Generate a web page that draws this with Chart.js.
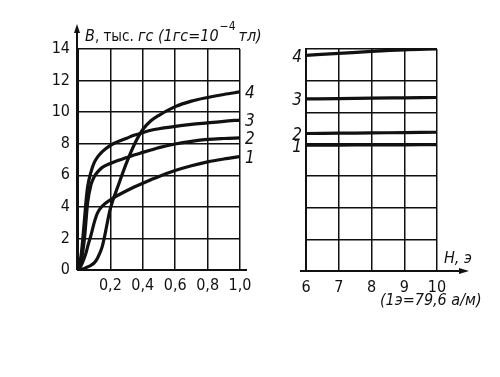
<!DOCTYPE html>
<html>
<head>
<meta charset="utf-8">
<script src="https://cdn.jsdelivr.net/npm/chart.js@4/dist/chart.umd.min.js"></script>
<style>
  body { margin: 0; background: #fff; width: 500px; height: 377px; overflow: hidden; }
  canvas { position: absolute; top: 0; }
  #left { left: 0; }
  #right { left: 270px; }
</style>
</head>
<body>
<canvas id="left" width="270" height="320"></canvas>
<canvas id="right" width="230" height="320"></canvas>
<script>
// H (кривые намагничивания, эрстед) — левая часть
const hSmall = [0, 0.02, 0.04, 0.05, 0.06, 0.08, 0.1, 0.12, 0.15, 0.2, 0.25, 0.3, 0.35, 0.4, 0.45, 0.5, 0.6, 0.7, 0.8, 0.9, 1.0];
const b1 = [0, 0.3, 0.8, 1.1, 1.5, 2.2, 3.0, 3.6, 4.05, 4.45, 4.75, 5.02, 5.27, 5.5, 5.72, 5.93, 6.3, 6.6, 6.85, 7.03, 7.18];
const b2 = [0, 0.6, 2.0, 3.2, 4.3, 5.4, 5.9, 6.2, 6.5, 6.75, 6.95, 7.12, 7.3, 7.45, 7.6, 7.75, 7.98, 8.15, 8.27, 8.33, 8.37];
const b3 = [0, 1.0, 3.2, 4.4, 5.3, 6.2, 6.8, 7.15, 7.5, 7.9, 8.15, 8.35, 8.55, 8.7, 8.85, 8.95, 9.1, 9.22, 9.32, 9.42, 9.5];
const b4 = [0, 0.05, 0.1, 0.15, 0.2, 0.3, 0.45, 0.75, 1.5, 3.9, 5.4, 6.8, 8.0, 8.9, 9.45, 9.8, 10.35, 10.7, 10.93, 11.12, 11.28];

// правая часть, H = 6..10 э
const hLarge = [6, 7, 8, 9, 10];
const r1 = [7.93, 7.94, 7.95, 7.96, 7.97];
const r2 = [8.67, 8.69, 8.71, 8.73, 8.75];
const r3 = [10.85, 10.87, 10.9, 10.92, 10.94];
const r4 = [13.6, 13.72, 13.85, 13.95, 14.0];

const curveNames = ['1', '2', '3', '4'];
const yTicks = [0, 2, 4, 6, 8, 10, 12, 14];

const FONT = "'Liberation Sans Narrow', 'DejaVu Sans Condensed', sans-serif";
const INK = '#111';

function toPoints(xs, ys) {
    return xs.map((x, i) => ({ x: x, y: ys[i] }));
}

function lineSet(label, xs, ys) {
    return {
        label: label,
        data: toPoints(xs, ys),
        borderColor: INK,
        borderWidth: 3.2,
        pointRadius: 0,
        fill: false,
        cubicInterpolationMode: 'monotone'
    };
}

const gridOpts = { color: INK, lineWidth: 1.5, drawTicks: false };

function arrowUp(ctx, x, y) {
    ctx.beginPath();
    ctx.moveTo(x, y);
    ctx.lineTo(x - 3, y + 9);
    ctx.lineTo(x + 3, y + 9);
    ctx.closePath();
    ctx.fill();
}

function arrowRight(ctx, x, y) {
    ctx.beginPath();
    ctx.moveTo(x, y);
    ctx.lineTo(x - 10, y - 3);
    ctx.lineTo(x - 10, y + 3);
    ctx.closePath();
    ctx.fill();
}

// подписи к левому графику
const leftDecor = {
    id: 'leftDecor',
    afterDraw(chart) {
        const ctx = chart.ctx;
        const a = chart.chartArea;
        const xs = chart.scales.x, ys = chart.scales.y;
        ctx.save();
        ctx.strokeStyle = INK;
        ctx.fillStyle = INK;
        ctx.lineWidth = 2;
        // ось B со стрелкой
        ctx.beginPath();
        ctx.moveTo(a.left - 1, a.bottom);
        ctx.lineTo(a.left - 1, 28);
        ctx.stroke();
        arrowUp(ctx, a.left - 1, 24);
        // ось H чуть дальше 1,0
        ctx.beginPath();
        ctx.moveTo(a.left, a.bottom);
        ctx.lineTo(a.right + 7, a.bottom);
        ctx.stroke();

        // заголовок оси
        ctx.textBaseline = 'alphabetic';
        ctx.textAlign = 'left';
        let x = 85;
        const base = 41;
        const parts = [
            ['italic 16px ' + FONT, 'B'],
            ['15px ' + FONT, ', тыс. '],
            ['italic 16px ' + FONT, 'гс'],
            ['italic 16px ' + FONT, ' (1гс=10'],
        ];
        parts.forEach(p => {
            ctx.font = p[0];
            ctx.fillText(p[1], x, base);
            x += ctx.measureText(p[1]).width;
        });
        ctx.font = '12px ' + FONT;
        ctx.fillText('−4', x + 1, base - 11);
        x += ctx.measureText('−4').width + 4;
        ctx.font = 'italic 16px ' + FONT;
        ctx.fillText('тл)', x, base);

        // номера кривых
        ctx.font = 'italic 17px ' + FONT;
        ctx.textBaseline = 'middle';
        chart.data.datasets.forEach(ds => {
            const last = ds.data[ds.data.length - 1];
            ctx.fillText(ds.label, xs.getPixelForValue(last.x) + 5, ys.getPixelForValue(last.y) + 2);
        });
        ctx.restore();
    }
};

// подписи к правому графику
const rightDecor = {
    id: 'rightDecor',
    afterDraw(chart) {
        const ctx = chart.ctx;
        const a = chart.chartArea;
        const ys = chart.scales.y;
        ctx.save();
        ctx.strokeStyle = INK;
        ctx.fillStyle = INK;
        ctx.lineWidth = 2;
        ctx.beginPath();
        ctx.moveTo(a.left - 6, a.bottom);
        ctx.lineTo(a.right + 24, a.bottom);
        ctx.stroke();
        arrowRight(ctx, a.right + 32, a.bottom);

        ctx.font = 'italic 17px ' + FONT;
        ctx.textBaseline = 'middle';
        ctx.textAlign = 'center';
        chart.data.datasets.forEach(ds => {
            const first = ds.data[0];
            ctx.fillText(ds.label, a.left - 9, ys.getPixelForValue(first.y) + 2);
        });

        ctx.textAlign = 'left';
        ctx.textBaseline = 'alphabetic';
        ctx.font = 'italic 16px ' + FONT;
        ctx.fillText('H, э', a.right + 7, a.bottom - 8);
        ctx.font = 'italic 16px ' + FONT;
        ctx.fillText('(1э=79,6 а/м)', a.left + 74, a.bottom + 34);
        ctx.restore();
    }
};

document.addEventListener('DOMContentLoaded', function() {
    Chart.defaults.font.family = FONT;
    Chart.defaults.color = INK;

    new Chart(document.getElementById('left').getContext('2d'), {
        type: 'line',
        data: {
            datasets: [
                lineSet(curveNames[0], hSmall, b1),
                lineSet(curveNames[1], hSmall, b2),
                lineSet(curveNames[2], hSmall, b3),
                lineSet(curveNames[3], hSmall, b4)
            ]
        },
        options: {
            responsive: false,
            animation: false,
            layout: { padding: { top: 49, right: 30, left: 0, bottom: 0 } },
            plugins: { legend: { display: false }, tooltip: { enabled: false } },
            scales: {
                x: {
                    type: 'linear',
                    min: 0, max: 1,
                    grid: gridOpts,
                    border: { color: INK, width: 2 },
                    afterFit: s => { s.height = 50; },
                    ticks: {
                        stepSize: 0.2,
                        padding: 6,
                        font: { size: 16 },
                        callback: v => v === 0 ? '' : v.toFixed(1).replace('.', ',')
                    }
                },
                y: {
                    min: 0, max: 14,
                    grid: gridOpts,
                    border: { color: INK, width: 2 },
                    afterFit: s => { s.width = 78; },
                    afterBuildTicks: s => { s.ticks = yTicks.map(v => ({ value: v })); },
                    ticks: { padding: 8, font: { size: 16 } }
                }
            }
        },
        plugins: [leftDecor]
    });

    new Chart(document.getElementById('right').getContext('2d'), {
        type: 'line',
        data: {
            datasets: [
                lineSet(curveNames[0], hLarge, r1),
                lineSet(curveNames[1], hLarge, r2),
                lineSet(curveNames[2], hLarge, r3),
                lineSet(curveNames[3], hLarge, r4)
            ]
        },
        options: {
            responsive: false,
            animation: false,
            layout: { padding: { top: 49, right: 63, left: 0, bottom: 0 } },
            plugins: { legend: { display: false }, tooltip: { enabled: false } },
            scales: {
                x: {
                    type: 'linear',
                    min: 6, max: 10,
                    grid: gridOpts,
                    border: { color: INK, width: 2 },
                    afterFit: s => { s.height = 49; },
                    ticks: { stepSize: 1, padding: 7, font: { size: 16 } }
                },
                y: {
                    min: 0, max: 14,
                    grid: gridOpts,
                    border: { color: INK, width: 2 },
                    afterFit: s => { s.width = 36; },
                    afterBuildTicks: s => { s.ticks = yTicks.map(v => ({ value: v })); },
                    ticks: { display: false }
                }
            }
        },
        plugins: [rightDecor]
    });
});
</script>
</body>
</html>
